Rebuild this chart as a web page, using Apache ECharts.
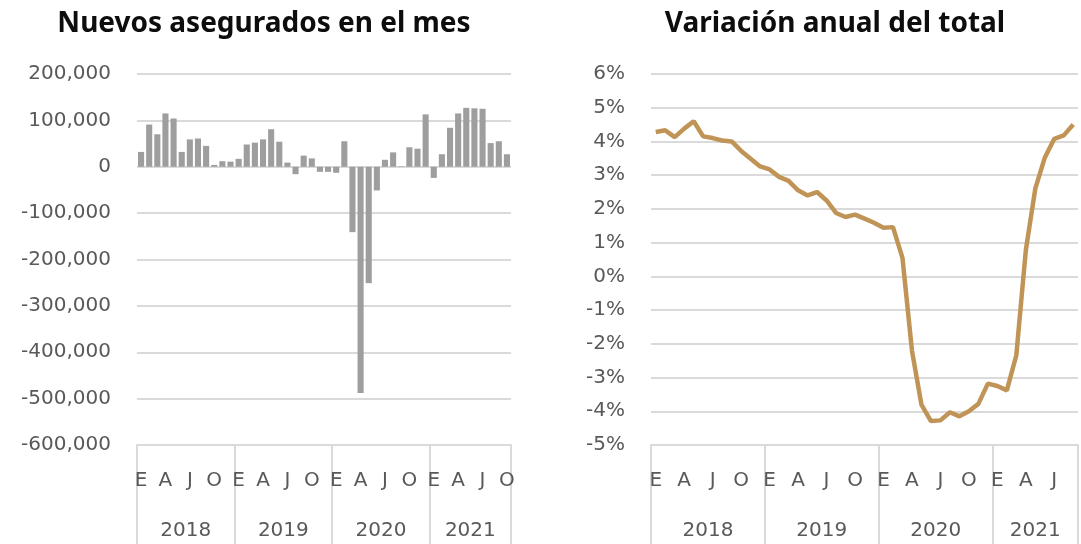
<!DOCTYPE html>
<html>
<head>
<meta charset="utf-8">
<script src="https://cdn.jsdelivr.net/npm/echarts@6/dist/echarts.min.js"></script>
<style>
    html, body { margin: 0; padding: 0; background: #fff; }
    #main { width: 1081px; height: 544px; }
</style>
</head>
<body>
<div id="main"></div>
<script>
// datos
var monthLetters = ['E', 'F', 'M', 'A', 'M', 'J', 'J', 'A', 'S', 'O', 'N', 'D'];
var years = ['2018', '2019', '2020', '2021'];
// nuevos asegurados en el mes, ene 2018 - oct 2021
var newInsured = [
    32000, 91000, 70000, 115000, 104000, 32000, 59000, 61000, 45000, 4000, 12000, 11000,
    17000, 48000, 52000, 59000, 81000, 54000, 9000, -16000, 24000, 18000, -11000, -11000,
    -13000, 55000, -141000, -488000, -251000, -51000, 15000, 31000, 1000, 42000, 39000, 113000,
    -24000, 27000, 84000, 115000, 127000, 126000, 125000, 51000, 55000, 27000
];
// variacion anual del total (%), ene 2018 - sep 2021
var annualVar = [
    4.28, 4.33, 4.13, 4.38, 4.6, 4.15, 4.1, 4.03, 4.0, 3.72, 3.49, 3.26,
    3.17, 2.95, 2.83, 2.55, 2.4, 2.5, 2.25, 1.88, 1.76, 1.83, 1.71, 1.59,
    1.44, 1.46, 0.55, -2.2, -3.8, -4.29, -4.27, -4.03, -4.15, -4.0, -3.78, -3.18,
    -3.25, -3.38, -2.34, 0.77, 2.6, 3.52, 4.08, 4.18, 4.5
];

var gray = '#595959';
var gridColor = '#dadada';
var font = 'DejaVu Sans';

function buildMonths(n) {
    var out = [];
    for (var i = 0; i < n; i++) {
        out.push(monthLetters[i % 12] + ' ' + years[Math.floor(i / 12)]);
    }
    return out;
}

// posicion de la etiqueta del año (mitad del bloque de meses)
function yearLabelIdx(n) {
    var idx = {};
    for (var y = 0; y * 12 < n; y++) {
        var m = Math.min(12, n - y * 12);
        if (m % 2 === 0) idx[y * 12 + m / 2] = 'even';
        else idx[y * 12 + (m - 1) / 2] = 'odd';
    }
    return idx;
}

function xAxes(cats, gridIndex, band) {
    var yl = yearLabelIdx(cats.length);
    return [
        {
            type: 'category', gridIndex: gridIndex, data: cats, position: 'bottom',
            axisLine: { onZero: false, lineStyle: { color: gridColor, width: 2 } },
            axisTick: { show: false },
            axisLabel: {
                interval: function (i) { return i % 3 === 0; },
                formatter: function (v) { return v.split(' ')[0]; },
                color: gray, fontFamily: font, fontSize: 20, margin: 26
            }
        },
        {
            type: 'category', gridIndex: gridIndex, data: cats, position: 'bottom',
            axisLine: { show: false, onZero: false },
            axisTick: {
                show: true, length: 100,
                interval: function (i) { return i % 12 === 0; },
                lineStyle: { color: gridColor, width: 2 }
            },
            axisLabel: {
                interval: function (i) { return yl.hasOwnProperty(i); },
                formatter: function (v, i) {
                    var s = yl[i] === 'even' ? 'e' : 'o';
                    return '{' + s + '|' + v.split(' ')[1] + '}';
                },
                rich: {
                    e: { padding: [0, band, 0, 0], color: gray, fontFamily: font, fontSize: 20 },
                    o: { color: gray, fontFamily: font, fontSize: 20 }
                },
                margin: 76
            }
        }
    ];
}

var dom = document.getElementById('main');
var myChart = echarts.init(dom);

var xa = xAxes(buildMonths(newInsured.length), 0, 374 / 46)
    .concat(xAxes(buildMonths(annualVar.length), 1, 427 / 45));

var option = {
    animation: false,
    title: [
        {
            text: 'Nuevos asegurados en el mes', left: 259, top: 5, textAlign: 'center',
            textStyle: { fontFamily: 'Noto Sans', fontWeight: 'bold', fontSize: 28, color: '#0d0d0d' }
        },
        {
            text: 'Variación anual del total', left: 830, top: 5, textAlign: 'center',
            textStyle: { fontFamily: 'Noto Sans', fontWeight: 'bold', fontSize: 28, color: '#0d0d0d' }
        }
    ],
    grid: [
        { left: 137, right: 570, top: 74, bottom: 99 },
        { left: 651, right: 3, top: 74, bottom: 99 }
    ],
    xAxis: xa,
    yAxis: [
        {
            type: 'value', gridIndex: 0, min: -600000, max: 200000, interval: 100000,
            axisLine: { show: false }, axisTick: { show: false },
            splitLine: { lineStyle: { color: gridColor, width: 2 } },
            axisLabel: {
                color: gray, fontFamily: font, fontSize: 20, margin: 26,
                formatter: function (v) { return v.toLocaleString('en-US'); }
            }
        },
        {
            type: 'value', gridIndex: 1, min: -5, max: 6, interval: 1,
            axisLine: { show: false }, axisTick: { show: false },
            splitLine: { lineStyle: { color: gridColor, width: 2 } },
            axisLabel: {
                color: gray, fontFamily: font, fontSize: 20, margin: 26,
                formatter: '{value}%'
            }
        }
    ],
    series: [
        {
            name: 'Nuevos asegurados', type: 'bar', xAxisIndex: 0, yAxisIndex: 0,
            data: newInsured, barCategoryGap: '25%',
            itemStyle: { color: '#9e9e9e' }
        },
        {
            name: 'Variación anual', type: 'line', xAxisIndex: 2, yAxisIndex: 1,
            data: annualVar, showSymbol: false, symbol: 'none',
            lineStyle: { color: '#c09457', width: 4.5 }
        }
    ]
};

myChart.setOption(option);
</script>
</body>
</html>
